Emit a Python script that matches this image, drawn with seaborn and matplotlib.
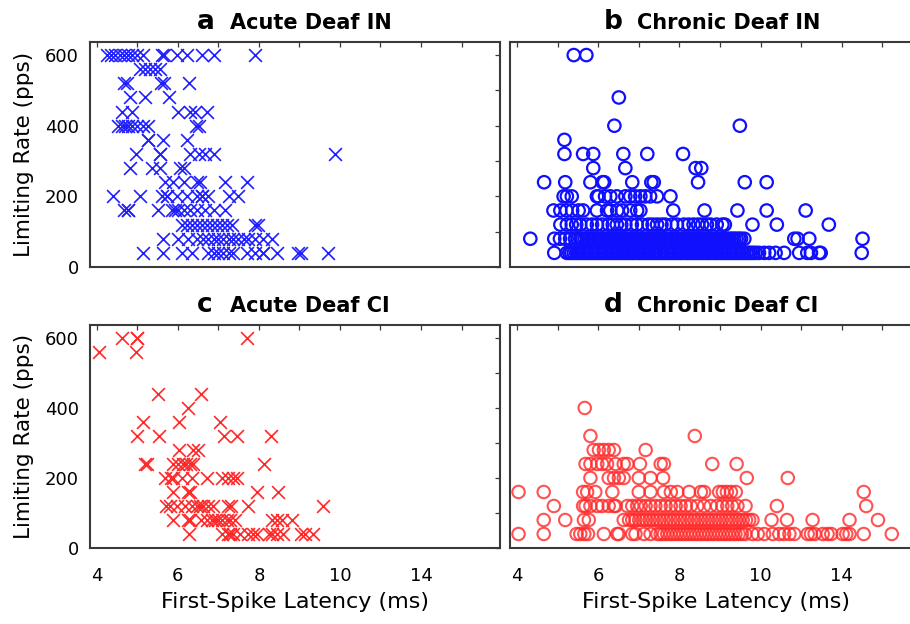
import matplotlib
matplotlib.use('Agg')
import matplotlib.pyplot as plt
import seaborn as sns
import pandas as pd
from matplotlib.ticker import FixedLocator, FixedFormatter

# limiting rate (pps) -> first-spike latencies (ms, axis units)
acute_in = {
    600: [4.25, 4.35, 4.45, 4.56, 4.66, 4.76, 4.86, 4.99, 5.15, 5.60, 5.66, 5.97, 6.22, 6.59, 6.88, 7.90],
    560: [5.07, 5.19, 5.31, 5.44, 5.56],
    520: [4.66, 4.74, 5.58, 5.66, 6.28],
    480: [4.82, 5.19, 5.77],
    440: [4.62, 4.86, 6.01, 6.30, 6.42, 6.71],
    400: [4.53, 4.62, 4.70, 4.78, 4.86, 4.99, 5.15, 5.27, 6.45, 6.53],
    360: [5.27, 5.27, 5.63, 6.22],
    320: [4.97, 5.56, 5.56, 6.30, 6.51, 6.67, 6.88, 9.88],
    280: [4.82, 5.36, 5.56, 6.05, 6.14],
    240: [5.68, 5.89, 6.14, 6.47, 6.55, 7.16, 7.70],
    200: [4.41, 5.07, 5.60, 5.73, 5.73, 5.97, 6.22, 6.47, 6.59, 6.59, 6.75, 7.25, 7.49],
    160: [4.66, 4.78, 4.78, 5.52, 5.85, 5.93, 6.01, 6.14, 6.30, 6.47, 6.67, 6.88, 7.16],
    120: [6.10, 6.22, 6.34, 6.47, 6.59, 6.71, 6.84, 6.96, 7.08, 7.21, 7.33, 7.90, 7.98],
    80: [5.64, 6.01, 6.26, 6.47, 6.63, 6.75, 6.88, 7.00, 7.12, 7.25, 7.37, 7.49, 7.62, 7.74,
         7.90, 8.11, 8.31],
    40: [5.15, 5.64, 6.10, 6.34, 6.75, 6.88, 7.00, 7.12, 7.25, 7.37, 7.70, 7.90, 8.11, 8.11,
         8.44, 8.97, 9.05, 9.71],
}

chronic_in = {
    600: [5.40, 5.71],
    480: [6.51],
    400: [6.40, 9.49],
    360: [5.17],
    320: [5.17, 5.63, 5.88, 6.62, 7.21, 8.09],
    280: [5.88, 6.67, 8.40, 8.54],
    240: [4.67, 5.19, 5.81, 6.11, 6.15, 6.84, 7.31, 7.37, 8.46, 9.61, 10.15],
    200: [5.15, 5.23, 5.35, 5.97, 6.01, 6.17, 6.30, 6.46, 6.67, 6.79, 6.91, 7.04, 7.16, 7.28,
          7.45, 7.78],
    160: [4.90, 5.07, 5.22, 5.36, 5.52, 5.63, 5.97, 6.22, 6.30, 6.47, 6.59, 6.79, 6.96, 7.04,
          7.85, 8.62, 9.43, 10.15, 11.11],
    120: [5.07, 5.23, 5.35, 5.46, 5.56, 5.72, 5.85, 5.97, 6.10, 6.26, 6.36, 6.46, 6.57, 6.67,
          6.83, 6.95, 7.08, 7.24, 7.34, 7.45, 7.56, 7.65, 7.82, 7.94, 8.11, 8.23, 8.35, 8.46,
          8.56, 8.68, 8.77, 8.92, 9.06, 9.12, 9.80, 10.40, 11.68],
    80: [4.33, 4.92, 5.06, 5.19, 5.31, 5.43,
         5.50, 5.56, 5.61, 5.67, 5.73, 5.78, 5.84, 5.90, 5.95, 6.01, 6.07, 6.12, 6.18, 6.24,
         6.29, 6.35, 6.41, 6.46, 6.52, 6.58, 6.63, 6.69, 6.75, 6.80, 6.86, 6.92, 6.97, 7.03,
         7.09, 7.14, 7.20, 7.26, 7.31, 7.37, 7.43, 7.48, 7.54, 7.60, 7.65, 7.71, 7.77, 7.82,
         7.88, 7.94, 7.99, 8.05, 8.11, 8.16, 8.22, 8.28, 8.33, 8.39, 8.45, 8.50, 8.56, 8.62,
         8.67, 8.73, 8.79, 8.84, 8.90, 8.96, 9.01, 9.07, 9.13, 9.18, 9.24, 9.30, 9.35, 9.41,
         9.47, 9.52, 9.60, 10.83, 10.91, 11.20, 12.51],
    40: [4.92,
         5.23, 5.29, 5.34, 5.40, 5.46, 5.51, 5.57, 5.63, 5.68, 5.74, 5.80, 5.85, 5.91, 5.97,
         6.02, 6.08, 6.14, 6.19, 6.25, 6.31, 6.36, 6.42, 6.48, 6.53, 6.59, 6.65, 6.70, 6.76,
         6.82, 6.87, 6.93, 6.99, 7.04, 7.10, 7.16, 7.21, 7.27, 7.33, 7.38, 7.44, 7.50, 7.55,
         7.61, 7.67, 7.72, 7.78, 7.84, 7.89, 7.95, 8.01, 8.06, 8.12, 8.18, 8.23, 8.29, 8.35,
         8.40, 8.46, 8.52, 8.57, 8.63, 8.69, 8.74, 8.80, 8.86, 8.91, 8.97, 9.03, 9.08, 9.14,
         9.20, 9.25, 9.31, 9.37, 9.42, 9.48, 9.54, 9.59, 9.65, 9.71, 9.76, 9.82, 9.88, 9.96,
         10.09, 10.21, 10.37, 10.58, 10.95, 11.15, 11.24, 11.44, 11.48, 12.49],
}

acute_ci = {
    600: [4.63, 5.00, 5.00, 7.71],
    560: [4.05, 4.96],
    440: [5.50, 6.57],
    400: [6.26],
    360: [5.13, 6.03, 7.04],
    320: [5.00, 5.54, 7.14, 7.47, 8.30],
    280: [6.03, 6.38, 6.50],
    240: [5.19, 5.23, 5.88, 6.01, 6.12, 6.20, 6.30, 6.38, 8.13],
    200: [5.68, 5.84, 5.88, 6.09, 6.34, 6.71, 7.10, 7.24, 7.37, 7.47],
    160: [5.88, 6.26, 6.30, 7.94, 8.46],
    120: [5.70, 5.80, 5.97, 6.17, 6.34, 6.46, 6.54, 6.63, 6.75, 6.87, 7.24, 7.31, 7.74, 9.57],
    80: [5.87, 6.26, 6.30, 6.58, 6.71, 6.83, 6.91, 7.00, 7.08, 7.20, 7.28, 7.41, 8.31, 8.44,
         8.56, 8.81],
    40: [6.28, 7.10, 7.24, 7.28, 7.37, 7.53, 7.74, 7.86, 7.94, 8.26, 8.31, 8.44, 8.60, 9.05,
         9.14, 9.34],
}

chronic_ci = {
    400: [5.67],
    320: [5.81, 8.38],
    280: [5.89, 6.02, 6.14, 6.26, 6.39, 7.17],
    240: [5.69, 5.81, 5.98, 6.10, 6.22, 6.43, 6.63, 6.72, 7.03, 7.54, 7.62, 8.81, 9.41],
    200: [5.81, 6.26, 6.39, 6.51, 6.63, 7.00, 7.29, 7.60, 9.66, 10.67],
    160: [4.04, 4.66, 5.63, 5.73, 5.93, 6.35, 7.00, 7.29, 7.62, 7.79, 7.95, 8.24, 8.53, 8.61,
          8.98, 9.07, 9.17, 9.27, 9.39, 12.54],
    120: [4.91, 5.63, 5.69, 5.81, 5.98, 6.10, 6.26, 6.39, 6.43, 6.72, 6.84, 6.96, 7.05, 7.17,
          7.29, 7.41, 7.54, 7.66, 7.79, 7.91, 8.03, 8.16, 8.28, 8.44, 8.61, 8.77, 8.93, 9.06,
          9.18, 9.30, 9.43, 9.63, 10.40, 12.60],
    80: [4.66, 5.19, 5.65, 5.77, 6.63, 6.76, 6.84, 6.92, 7.01, 7.10, 7.18, 7.27, 7.35, 7.44,
         7.52, 7.61, 7.69, 7.78, 7.86, 7.95, 8.03, 8.12, 8.20, 8.29, 8.37, 8.46, 8.54, 8.63,
         8.71, 8.80, 8.88, 8.97, 9.05, 9.14, 9.22, 9.30, 9.39, 9.47, 9.56, 9.64, 9.72, 9.80,
         10.27, 10.65, 11.28, 12.19, 12.89],
    40: [4.04, 4.66, 5.47, 5.56, 5.66, 5.75, 6.14, 6.47, 6.51, 6.84, 6.92, 7.13, 7.29, 7.46,
         7.54, 7.62, 7.70, 7.78, 7.86, 7.94, 8.02, 8.10, 8.18, 8.26, 8.34, 8.42, 8.50, 8.58,
         8.66, 8.74, 8.82, 8.90, 8.98, 9.06, 9.14, 9.22, 9.30, 9.38, 9.46, 9.54, 9.62, 9.80,
         9.93, 10.09, 10.30, 10.46, 10.58, 10.71, 10.83, 11.16, 11.24, 11.33, 11.53, 11.65,
         11.74, 12.02, 12.11, 12.19, 12.54, 13.23],
}

panel_letters = ['a', 'b', 'c', 'd']
panel_titles = ['Acute Deaf IN', 'Chronic Deaf IN', 'Acute Deaf CI', 'Chronic Deaf CI']

x_ticks = [4, 5, 6, 7, 8, 9, 10, 11, 12, 13]
x_tick_labels = ['4', '', '6', '', '8', '', '10', '', '14', '']
y_ticks = [0, 100, 200, 300, 400, 500, 600]
y_tick_labels = ['0', '', '200', '', '400', '', '600']

FONT = ['DejaVu Sans']
FRAME = '#3a3a3a'


def to_frame(rate_map):
    rows = [(lat, rate) for rate, lats in rate_map.items() for lat in lats]
    return pd.DataFrame(rows, columns=['latency', 'rate'])


def style_axis(ax, show_x, show_y):
    ax.set_xlim(3.83, 13.95)
    ax.set_ylim(0, 637)
    ax.xaxis.set_major_locator(FixedLocator(x_ticks))
    ax.yaxis.set_major_locator(FixedLocator(y_ticks))
    ax.xaxis.set_major_formatter(FixedFormatter(x_tick_labels if show_x else [''] * len(x_ticks)))
    ax.yaxis.set_major_formatter(FixedFormatter(y_tick_labels if show_y else [''] * len(y_ticks)))
    ax.tick_params(direction='in', length=3.5, width=0.9, color=FRAME, top=True, right=True,
                   labelsize=13, labelcolor='black')
    ax.tick_params(axis='x', pad=14)
    ax.tick_params(axis='y', pad=8)
    for sp in ax.spines.values():
        sp.set_color(FRAME)
        sp.set_linewidth(1.5)
    ax.set_xlabel('First-Spike Latency (ms)' if show_x else '', fontsize=16, labelpad=5,
                  color='black')
    ax.set_ylabel('Limiting Rate (pps)' if show_y else '', fontsize=15.5, labelpad=8,
                  color='black')
    ax.grid(False)


def put_title(ax, letter, title, x_letter):
    ax.text(x_letter, 1.058, letter, transform=ax.transAxes, fontsize=19, fontweight='bold',
            ha='left', va='baseline', color='black')
    ax.text(x_letter + 0.08, 1.058, title, transform=ax.transAxes, fontsize=15, fontweight='bold',
            ha='left', va='baseline', color='black')


if __name__ == '__main__':
    sns.set_style('white')
    plt.rcParams['font.family'] = FONT

    fig = plt.figure(figsize=(9.10, 6.24), dpi=100)
    positions = [
        [90 / 910, 1 - 267 / 624, 410 / 910, 225 / 624],
        [510 / 910, 1 - 267 / 624, 411 / 910, 225 / 624],
        [90 / 910, 1 - 548 / 624, 410 / 910, 223 / 624],
        [510 / 910, 1 - 548 / 624, 411 / 910, 223 / 624],
    ]
    axes = [fig.add_axes(p) for p in positions]

    blue = '#2020ff'
    red = '#ff2828'

    sns.scatterplot(data=to_frame(acute_in), x='latency', y='rate', ax=axes[0], marker='x',
                    color=blue, s=85, linewidth=1.2)
    sns.scatterplot(data=to_frame(chronic_in), x='latency', y='rate', ax=axes[1], marker='o',
                    facecolor='none', edgecolor='#1010ff', s=80, linewidth=1.6)
    sns.scatterplot(data=to_frame(acute_ci), x='latency', y='rate', ax=axes[2], marker='x',
                    color=red, s=85, linewidth=1.2)
    sns.scatterplot(data=to_frame(chronic_ci), x='latency', y='rate', ax=axes[3], marker='o',
                    facecolor='none', edgecolor=red, s=80, linewidth=1.5, alpha=0.8)

    style_axis(axes[0], False, True)
    style_axis(axes[1], False, False)
    style_axis(axes[2], True, True)
    style_axis(axes[3], True, False)

    letter_x = [0.261, 0.229, 0.261, 0.229]
    for ax, letter, title, lx in zip(axes, panel_letters, panel_titles, letter_x):
        put_title(ax, letter, title, lx)

    fig.savefig('out.png', dpi=100)
